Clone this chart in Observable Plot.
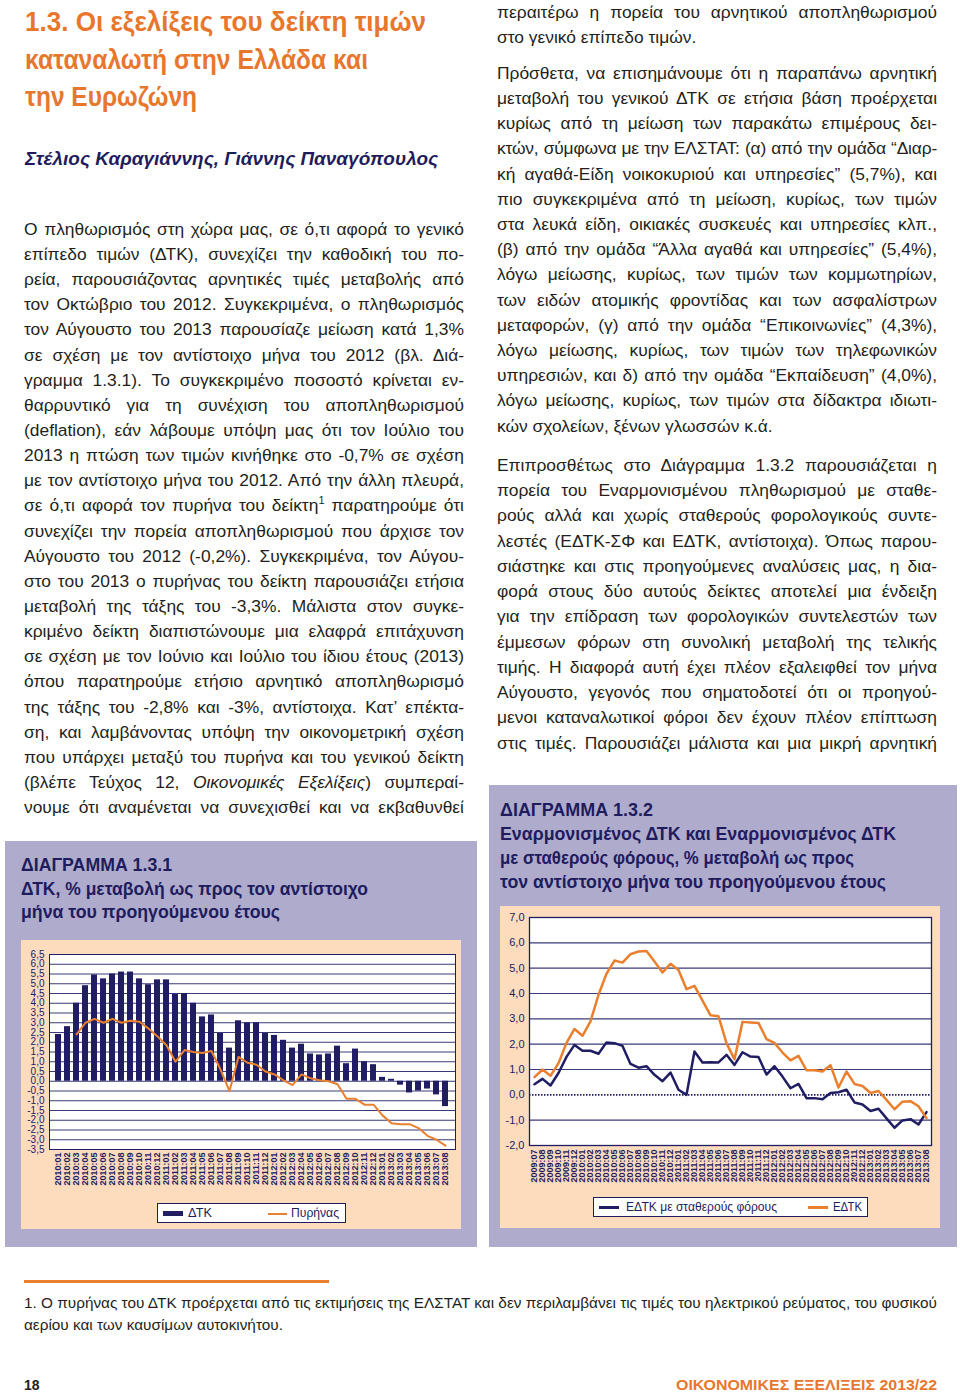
<!DOCTYPE html>
<html><head><meta charset="utf-8">
<script src="https://cdn.jsdelivr.net/npm/d3@7"></script>
<script src="https://cdn.jsdelivr.net/npm/@observablehq/plot@0.6"></script>
<style>
html,body{margin:0;padding:0;background:#fff;}
body{width:960px;height:1395px;position:relative;overflow:hidden;font-family:"Liberation Sans",Arial,Helvetica,sans-serif;}
.abs{position:absolute;white-space:nowrap;line-height:1;}
.txt{color:#231f20;}
.navy{color:#1f1c5e;font-weight:bold;}
.orange{color:#e8772e;font-weight:bold;}
.box{position:absolute;}
.c1 [aria-label^="x-axis"] text{font-size:9px;font-weight:bold;}
.c2 [aria-label^="x-axis"] text{font-size:9px;font-weight:bold;}
.c1 [aria-label^="y-axis"] text{font-size:10px;}
.c2 [aria-label^="y-axis"] text{font-size:11px;}
.legend{position:absolute;background:#fff;border:1px solid #1f1c5e;box-sizing:border-box;}
</style>
</head><body>
<script>
// ---------- DATA ----------
const months1 = ["2010:01","2010:02","2010:03","2010:04","2010:05","2010:06","2010:07","2010:08","2010:09","2010:10","2010:11","2010:12",
"2011:01","2011:02","2011:03","2011:04","2011:05","2011:06","2011:07","2011:08","2011:09","2011:10","2011:11","2011:12",
"2012:01","2012:02","2012:03","2012:04","2012:05","2012:06","2012:07","2012:08","2012:09","2012:10","2012:11","2012:12",
"2013:01","2013:02","2013:03","2013:04","2013:05","2013:06","2013:07","2013:08"];
const cpiValues = [2.4,2.8,4.0,4.9,5.45,5.25,5.5,5.6,5.6,5.25,4.95,5.2,
5.2,4.45,4.5,4.0,3.3,3.4,2.45,1.7,3.1,3.0,3.0,2.45,
2.35,2.1,1.7,1.9,1.4,1.35,1.4,1.8,0.9,1.65,1.0,0.85,
0.2,0.1,-0.2,-0.6,-0.5,-0.4,-0.7,-1.3];
const coreValues = [null,null,2.4,3.0,3.2,3.0,3.2,3.0,3.1,3.05,2.7,2.3,
1.85,1.0,1.6,1.5,1.45,1.55,0.6,-0.5,1.25,0.95,0.85,0.5,
0.35,0.05,-0.2,0.35,0.15,0.05,0.0,-0.15,-0.9,-0.9,-1.2,-1.2,
-1.75,-2.15,-2.2,-2.2,-2.4,-2.8,-3.0,-3.3];
const yTicks1 = [-3.5,-3,-2.5,-2,-1.5,-1,-0.5,0,0.5,1,1.5,2,2.5,3,3.5,4,4.5,5,5.5,6,6.5];

const months2 = ["2009:07","2009:08","2009:09","2009:10","2009:11","2009:12",
"2010:01","2010:02","2010:03","2010:04","2010:05","2010:06","2010:07","2010:08","2010:09","2010:10","2010:11","2010:12",
"2011:01","2011:02","2011:03","2011:04","2011:05","2011:06","2011:07","2011:08","2011:09","2011:10","2011:11","2011:12",
"2012:01","2012:02","2012:03","2012:04","2012:05","2012:06","2012:07","2012:08","2012:09","2012:10","2012:11","2012:12",
"2013:01","2013:02","2013:03","2013:04","2013:05","2013:06","2013:07","2013:08"];
const hicpValues = [0.7,1.0,0.75,1.25,2.05,2.6,2.33,2.9,3.95,4.78,
5.3,5.22,5.55,5.66,5.68,5.26,4.83,5.17,4.93,4.17,
4.3,3.72,3.14,3.1,2.04,1.4,2.88,2.86,2.84,2.2,
2.05,1.67,1.36,1.54,0.97,0.97,0.92,1.17,0.29,0.92,
0.43,0.35,0.07,0.15,-0.2,-0.57,-0.27,-0.25,-0.45,-0.92];
const hicpCtValues = [0.42,0.63,0.37,0.86,1.5,1.97,1.74,1.74,1.62,2.07,
2.04,1.93,1.22,1.07,1.13,0.79,0.54,0.88,0.2,0.0,
1.71,1.28,1.29,1.28,1.58,1.18,1.68,1.51,1.49,0.8,
1.13,0.72,0.26,0.43,-0.13,-0.13,-0.17,0.07,0.1,0.2,
-0.3,-0.38,-0.64,-0.55,-0.93,-1.3,-1.01,-0.96,-1.17,-0.68];
const yTicks2 = [-2,-1,0,1,2,3,4,5,6,7];

const series1 = ["ΔΤΚ","Πυρήνας"];
const series2 = ["ΕΔΤΚ με σταθερούς φόρους","ΕΔΤΚ"];

const titleLines = ["1.3. Οι εξελίξεις του δείκτη τιμών","καταναλωτή στην Ελλάδα και","την Ευρωζώνη"];
const authors = "Στέλιος Καραγιάννης, Γιάννης Παναγόπουλος";

const leftLines = [
"Ο πληθωρισμός στη χώρα μας, σε ό,τι αφορά το γενικό",
"επίπεδο τιμών (ΔΤΚ), συνεχίζει την καθοδική του πο-",
"ρεία, παρουσιάζοντας αρνητικές τιμές μεταβολής από",
"τον Οκτώβριο του 2012. Συγκεκριμένα, ο πληθωρισμός",
"τον Αύγουστο του 2013 παρουσίαζε μείωση κατά 1,3%",
"σε σχέση με τον αντίστοιχο μήνα του 2012 (βλ. Διά-",
"γραμμα 1.3.1). Το συγκεκριμένο ποσοστό κρίνεται εν-",
"θαρρυντικό για τη συνέχιση του αποπληθωρισμού",
"(deflation), εάν λάβουμε υπόψη μας ότι τον Ιούλιο του",
"2013 η πτώση των τιμών κινήθηκε στο -0,7% σε σχέση",
"με τον αντίστοιχο μήνα του 2012. Από την άλλη πλευρά,",
"σε ό,τι αφορά τον πυρήνα του δείκτη<sup style=\"font-size:11px;vertical-align:7px;line-height:0\">1</sup> παρατηρούμε ότι",
"συνεχίζει την πορεία αποπληθωρισμού που άρχισε τον",
"Αύγουστο του 2012 (-0,2%). Συγκεκριμένα, τον Αύγου-",
"στο του 2013 ο πυρήνας του δείκτη παρουσιάζει ετήσια",
"μεταβολή της τάξης του -3,3%. Μάλιστα στον συγκε-",
"κριμένο δείκτη διαπιστώνουμε μια ελαφρά επιτάχυνση",
"σε σχέση με τον Ιούνιο και Ιούλιο του ίδιου έτους (2013)",
"όπου παρατηρούμε ετήσιο αρνητικό αποπληθωρισμό",
"της τάξης του -2,8% και -3%, αντίστοιχα. Κατ’ επέκτα-",
"ση, και λαμβάνοντας υπόψη την οικονομετρική σχέση",
"που υπάρχει μεταξύ του πυρήνα και του γενικού δείκτη",
"(βλέπε Τεύχος 12, <i>Οικονομικές Εξελίξεις</i>) συμπεραί-",
"νουμε ότι αναμένεται να συνεχισθεί και να εκβαθυνθεί"
];
const rightPara1 = [
"περαιτέρω η πορεία του αρνητικού αποπληθωρισμού",
"στο γενικό επίπεδο τιμών."
];
const rightPara2 = [
"Πρόσθετα, να επισημάνουμε ότι η παραπάνω αρνητική",
"μεταβολή του γενικού ΔΤΚ σε ετήσια βάση προέρχεται",
"κυρίως από τη μείωση των παρακάτω επιμέρους δει-",
"κτών, σύμφωνα με την ΕΛΣΤΑΤ: (α) από την ομάδα “Διαρ-",
"κή αγαθά-Είδη νοικοκυριού και υπηρεσίες” (5,7%), και",
"πιο συγκεκριμένα από τη μείωση, κυρίως, των τιμών",
"στα λευκά είδη, οικιακές συσκευές και υπηρεσίες κλπ.,",
"(β) από την ομάδα “Άλλα αγαθά και υπηρεσίες” (5,4%),",
"λόγω μείωσης, κυρίως, των τιμών των κομμωτηρίων,",
"των ειδών ατομικής φροντίδας και των ασφαλίστρων",
"μεταφορών, (γ) από την ομάδα “Επικοινωνίες” (4,3%),",
"λόγω μείωσης, κυρίως, των τιμών των τηλεφωνικών",
"υπηρεσιών, και δ) από την ομάδα “Εκπαίδευση” (4,0%),",
"λόγω μείωσης, κυρίως, των τιμών στα δίδακτρα ιδιωτι-",
"κών σχολείων, ξένων γλωσσών κ.ά."
];
const rightPara3 = [
"Επιπροσθέτως στο Διάγραμμα 1.3.2 παρουσιάζεται η",
"πορεία του Εναρμονισμένου πληθωρισμού με σταθε-",
"ρούς αλλά και χωρίς σταθερούς φορολογικούς συντε-",
"λεστές (ΕΔΤΚ-ΣΦ και ΕΔΤΚ, αντίστοιχα). Όπως παρου-",
"σιάστηκε και στις προηγούμενες αναλύσεις μας, η δια-",
"φορά στους δύο αυτούς δείκτες αποτελεί μια ένδειξη",
"για την επίδραση των φορολογικών συντελεστών των",
"έμμεσων φόρων στη συνολική μεταβολή της τελικής",
"τιμής. Η διαφορά αυτή έχει πλέον εξαλειφθεί τον μήνα",
"Αύγουστο, γεγονός που σηματοδοτεί ότι οι προηγού-",
"μενοι καταναλωτικοί φόροι δεν έχουν πλέον επίπτωση",
"στις τιμές. Παρουσιάζει μάλιστα και μια μικρή αρνητική"
];
const chart1Title = ["ΔΙΑΓΡΑΜΜΑ 1.3.1","ΔΤΚ, % μεταβολή ως προς τον αντίστοιχο","μήνα του προηγούμενου έτους"];
const chart2Title = ["ΔΙΑΓΡΑΜΜΑ 1.3.2","Εναρμονισμένος ΔΤΚ και Εναρμονισμένος ΔΤΚ","με σταθερούς φόρους, % μεταβολή ως προς","τον αντίστοιχο μήνα του προηγούμενου έτους"];
const footnoteLines = ["1. Ο πυρήνας του ΔΤΚ προέρχεται από τις εκτιμήσεις της ΕΛΣΤΑΤ και δεν περιλαμβάνει τις τιμές του ηλεκτρικού ρεύματος, του φυσικού","αερίου και των καυσίμων αυτοκινήτου."];
const pageNumber = "18";
const footerTitle = "ΟΙΚΟΝΟΜΙΚΕΣ ΕΞΕΛΙΞΕΙΣ  2013/22";

// ---------- COLORS ----------
const NAVY = "#201d63";
const ORANGE = "#e8802f";
const GRID = "#3a3a78";
const LAV = "#aeabcd";
const PEACH = "#fddbbd";

// ---------- HELPERS ----------
function rect(x, y, w, h, color) {
  const d = document.createElement("div");
  d.className = "box";
  Object.assign(d.style, {left: x+"px", top: y+"px", width: w+"px", height: h+"px", background: color});
  document.body.appendChild(d);
  return d;
}
function line(html, x, baseline, size, cls, opts = {}) {
  const d = document.createElement("div");
  d.className = "abs " + cls;
  d.style.fontSize = size + "px";
  d.innerHTML = html;
  d.style.left = x + "px";
  d.style.top = (baseline - 0.8465 * size) + "px";
  document.body.appendChild(d);
  const W = () => d.getBoundingClientRect().width;
  if (opts.justify) {
    let w = W();
    const n = d.textContent.length;
    const gaps = (d.textContent.match(/ /g) || []).length;
    if (w > opts.justify - gaps * 0.5) {
      d.style.letterSpacing = ((opts.justify - gaps * 0.5 - w) / n) + "px";
      w = W();
    }
    if (gaps > 0) d.style.wordSpacing = ((opts.justify - w) / gaps) + "px";
  }
  if (opts.fit) {
    const w = W();
    d.style.transformOrigin = "0 0";
    d.style.transform = `scaleX(${opts.fit / w})`;
    d._scale = opts.fit / w;
  }
  if (opts.scale) {
    d.style.transformOrigin = "0 0";
    d.style.transform = `scaleX(${opts.scale})`;
  }
  return d;
}

// ---------- HEADER ----------
const titleW = [401, 343, 172];
titleLines.forEach((t, i) => line(t, 25, 32 + i * 37.3, 28, "orange", {fit: titleW[i]}));
line(authors, 25, 165, 18, "navy", {fit: 412}).style.fontStyle = "italic";

// ---------- BODY TEXT ----------
const BS = 17.4;
leftLines.forEach((t, i) => line(t, 24, 235.5 + i * 25.15, BS, "txt", {justify: 440}));
rightPara1.forEach((t, i) => line(t, 497, 18.5 + i * 25.2, BS, "txt", i < rightPara1.length - 1 ? {justify: 440} : {}));
rightPara2.forEach((t, i) => line(t, 497, 79.5 + i * 25.2, BS, "txt", i < rightPara2.length - 1 ? {justify: 440} : {}));
rightPara3.forEach((t, i) => line(t, 497, 471.5 + i * 25.25, BS, "txt", {justify: 440}));

// ---------- BOXES ----------
rect(5, 841, 472, 406, LAV);
rect(489, 785, 468, 462, LAV);
rect(21, 940, 440, 289, PEACH);
rect(500, 906, 440, 322, PEACH);

const t1W = [151, 347, 259];
chart1Title.forEach((t, i) => line(t, 21, 871.7 + i * 23.8, 17.5, "navy", {fit: t1W[i]}));
const t2W = [153, 396, 354, 386];
chart2Title.forEach((t, i) => line(t, 499.5, 817 + i * 24, 17.5, "navy", {fit: t2W[i]}));

// ---------- CHART 1 ----------
const fmt = d => d.toFixed(1).replace(".", ",");
const data1 = months1.map((m, i) => ({m, cpi: cpiValues[i], core: coreValues[i]}));
const chart1 = Plot.plot({
  width: 440, height: 260,
  marginLeft: 28, marginRight: 6, marginTop: 14, marginBottom: 51,
  style: {background: "transparent", color: NAVY, fontFamily: "Liberation Sans, Arial, sans-serif", overflow: "visible"},
  x: {type: "band", domain: months1, paddingInner: 0.32, paddingOuter: 0.16, align: 0.5, tickRotate: -90, tickSize: 0, tickPadding: 3, label: null},
  y: {domain: [-3.5, 6.5], ticks: yTicks1, tickFormat: fmt, tickSize: 0, tickPadding: 5, label: null},
  marks: [
    Plot.frame({fill: "white", stroke: null}),
    Plot.ruleY(yTicks1, {stroke: GRID, strokeWidth: 1}),
    Plot.barY(data1, {x: "m", y: "cpi", fill: NAVY}),
    Plot.line(data1.filter(d => d.core !== null), {x: "m", y: "core", stroke: ORANGE, strokeWidth: 2}),
    Plot.frame({stroke: NAVY, strokeWidth: 1})
  ]
});
const w1 = document.createElement("div");
w1.className = "c1";
Object.assign(w1.style, {position: "absolute", left: "21px", top: "940px"});
w1.appendChild(chart1);
document.body.appendChild(w1);

// legend 1
const lg1 = document.createElement("div");
lg1.className = "legend";
Object.assign(lg1.style, {left: "157px", top: "1203px", width: "189px", height: "20px"});
document.body.appendChild(lg1);
rect(163, 1211, 20, 5, NAVY);
line(series1[0], 188, 1217.5, 12.5, "", {fit: 24}).style.color = "#1f1c5e";
rect(268, 1212.5, 19, 2, ORANGE);
line(series1[1], 291, 1217.5, 12.5, "", {fit: 48}).style.color = "#1f1c5e";

// ---------- CHART 2 ----------
const data2 = months2.map((m, i) => ({m, h: hicpValues[i], ct: hicpCtValues[i]}));
const chart2 = Plot.plot({
  width: 440, height: 290,
  marginLeft: 29, marginRight: 9, marginTop: 11, marginBottom: 51,
  style: {background: "transparent", color: NAVY, fontFamily: "Liberation Sans, Arial, sans-serif", overflow: "visible"},
  x: {type: "point", domain: months2, padding: 0, tickRotate: -90, tickSize: 0, tickPadding: 4, label: null},
  y: {domain: [-2, 7], ticks: yTicks2, tickFormat: fmt, tickSize: 0, tickPadding: 5, label: null},
  marks: [
    Plot.frame({fill: "white", stroke: null}),
    Plot.ruleY(yTicks2.filter(v => v !== 0), {stroke: GRID, strokeWidth: 1.2}),
    Plot.ruleY([0], {stroke: NAVY, strokeWidth: 1.6, strokeDasharray: "1.5,1.5"}),
    Plot.line(data2, {x: "m", y: "ct", stroke: NAVY, strokeWidth: 2.5}),
    Plot.line(data2, {x: "m", y: "h", stroke: ORANGE, strokeWidth: 2.5}),
    Plot.frame({stroke: NAVY, strokeWidth: 1.3})
  ]
});
const w2 = document.createElement("div");
w2.className = "c2";
Object.assign(w2.style, {position: "absolute", left: "500px", top: "906px"});
w2.appendChild(chart2);
document.body.appendChild(w2);

// legend 2
const lg2 = document.createElement("div");
lg2.className = "legend";
Object.assign(lg2.style, {left: "593px", top: "1197px", width: "275px", height: "20px"});
document.body.appendChild(lg2);
rect(599, 1205.5, 20, 3, NAVY);
line(series2[0], 626, 1211.5, 13, "", {fit: 151}).style.color = "#1f1c5e";
rect(808, 1205.5, 20, 3, ORANGE);
line(series2[1], 833, 1211.5, 13, "", {fit: 29}).style.color = "#1f1c5e";

// ---------- FOOTNOTE & FOOTER ----------
rect(24, 1280, 305, 2.5, ORANGE);
const f1 = line(footnoteLines[0], 24, 1308.5, 14.5, "txt", {fit: 913});
line(footnoteLines[1], 24, 1330.5, 14.5, "txt", {scale: f1._scale});
line(pageNumber, 24, 1390, 14, "navy").style.color = "#231f20";
line(footerTitle, 676, 1390, 14.5, "orange", {fit: 261});
</script>
</body></html>
